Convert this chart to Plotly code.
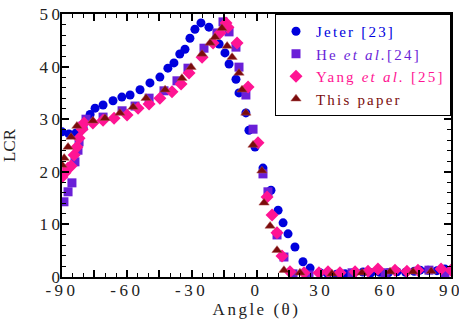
import plotly.graph_objects as go

# Jeter [23]
jeter_x = [-90.0, -86.8, -83.5, -80.3, -77.0, -74.7, -71.0, -66.4, -62.3, -58.5, -53.9, -49.3, -44.7,
           -41.0, -38.2, -35.5, -33.1, -30.8, -28.5, -25.7, -22.0, -17.3, -14.6, -12.7, -9.5, -8.1,
           -4.9, -3.5, -0.7, 3.0, 6.7, 10.0, 12.3, 14.6, 17.8, 21.5, 24.8, 29.4, 33.0, 37.0, 41.0,
           45.0, 49.3, 53.0, 57.0, 61.0, 65.0, 69.0, 73.0, 75.7, 79.4, 83.5, 87.2, 90.0]
jeter_y = [27.6, 27.2, 27.4, 28.3, 30.9, 32.1, 32.7, 33.5, 34.2, 34.6, 35.6, 36.9, 38.0,
           39.7, 40.7, 42.4, 43.3, 45.4, 47.1, 48.3, 47.5, 44.3, 42.6, 40.5, 37.6, 35.0,
           31.2, 27.9, 24.7, 20.7, 16.5, 12.7, 10.3, 8.2, 5.7, 2.9, 1.7, 0.8, 0.6, 0.5, 0.6,
           0.8, 0.95, 0.8, 0.9, 0.8, 1.0, 0.9, 1.1, 1.3, 1.3, 1.2, 1.5, 1.4]

# He et al. [24]
he_x = [-89.1, -87.2, -85.4, -84.0, -82.6, -82.1, -80.3, -78.9, -71.0, -62.2, -56.2, -49.7, -42.8,
        -36.8, -31.7, -24.3, -18.3, -15.5, -12.7, -9.5, -8.1, -4.9, -1.6, 3.0, 5.3, 9.5, 12.7,
        16.9, 24.3, 44.2, 59.5, 79.8, 87.2]
he_y = [14.3, 16.2, 17.9, 21.9, 24.1, 25.7, 28.7, 30.0, 30.4, 31.6, 32.5, 34.0, 35.4,
        37.3, 39.7, 43.5, 46.4, 48.5, 46.6, 43.7, 39.9, 34.6, 28.1, 19.6, 16.2, 8.0, 3.8,
        0.6, 0.4, 0.8, 0.8, 1.3, 0.6]

# Yang et al. [25]
yang_x = [-90.0, -88.6, -87.2, -85.8, -84.4, -83.1, -82.1, -80.7, -79.8, -75.7, -71.0, -65.9, -59.9,
          -54.8, -49.7, -44.7, -39.1, -34.9, -31.2, -25.2, -20.1, -16.9, -14.1, -13.2, -9.0, -3.9,
          0.7, 4.9, 7.2, 9.5, 11.8, 15.5, 22.0, 28.9, 33.1, 38.6, 45.6, 51.6, 56.2, 64.1, 69.6,
          74.7, 85.4, 90.0]
yang_y = [19.0, 19.8, 20.7, 21.1, 23.2, 24.7, 26.4, 28.1, 29.3, 29.3, 29.8, 30.2, 30.8,
          32.1, 32.9, 34.0, 35.2, 36.7, 38.8, 41.8, 44.5, 46.4, 48.3, 47.5, 44.5, 36.1,
          25.5, 15.2, 11.8, 8.4, 4.0, 1.0, 0.8, 0.8, 1.0, 0.8, 1.0, 1.1, 1.5, 1.3, 1.1,
          1.3, 1.5, 1.3]

# This paper
this_x = [-90.0, -89.0, -87.2, -85.8, -83.1, -75.7, -70.1, -63.2, -57.1, -51.1, -42.3, -34.5, -30.3,
          -25.2, -21.5, -19.2, -16.0, -13.6, -11.3, -8.1, -6.7, -4.9, -1.6, 2.5, 3.5, 6.3, 9.5,
          12.7, 20.1, 34.9, 48.8, 61.8, 72.4, 80.8]
this_y = [21.3, 22.6, 24.7, 26.6, 28.7, 29.7, 30.2, 31.2, 32.3, 34.0, 35.6, 37.8, 39.9,
          42.4, 44.5, 45.6, 47.3, 43.9, 41.8, 38.8, 35.6, 31.2, 25.1, 20.2, 14.1, 9.7, 5.1,
          1.3, 0.8, 0.6, 0.8, 1.0, 1.0, 1.1]

x_tickvals = list(range(-90, 91, 15))
x_ticklabels = [str(v) if v % 30 == 0 else "" for v in x_tickvals]
y_tickvals = [0, 10, 20, 30, 40, 50]
y_ticklabels = ["0", "10", "20", "30", "40", "50"]

C_BLUE = "#0000dd"
C_PURPLE = "#6a1fd8"
C_PINK = "#ff1493"
C_RED = "#7a0c0c"

FONT = "Liberation Serif"


def spaced(text, ls, color=None):
    style = f"letter-spacing:{ls}px"
    if color:
        style = f"color:{color};" + style
    return f'<span style="{style}">{text}</span>' if text else ""


fig = go.Figure()
fig.add_trace(go.Scatter(x=jeter_x, y=jeter_y, mode="markers",
                         name=spaced("Jeter [23]", 2.2, C_BLUE),
                         marker=dict(symbol="circle", size=9, color=C_BLUE)))
fig.add_trace(go.Scatter(x=he_x, y=he_y, mode="markers",
                         name=spaced("He <i>et al.</i>[24]", 2.2, C_PURPLE),
                         marker=dict(symbol="square", size=9, color=C_PURPLE)))
fig.add_trace(go.Scatter(x=yang_x, y=yang_y, mode="markers",
                         name=spaced("Yang <i>et al.</i> [25]", 2.2, C_PINK),
                         marker=dict(symbol="diamond", size=10, color=C_PINK)))
fig.add_trace(go.Scatter(x=this_x, y=this_y, mode="markers",
                         name=spaced("This paper", 2.2, C_RED),
                         marker=dict(symbol="triangle-up", size=9, color=C_RED,
                                     line=dict(color="#b05050", width=0.5))))

axis_common = dict(showline=True, linecolor="black", linewidth=2, mirror="ticks",
                   ticks="inside", tickcolor="black", tickwidth=1.5, showgrid=False,
                   zeroline=False, automargin=False, ticklabeloverflow="allow",
                   tickfont=dict(family=FONT, size=17, color="#222"))

fig.update_xaxes(range=[-90, 90], tickvals=x_tickvals,
                 ticktext=[spaced(t, 3.5) for t in x_ticklabels], ticklen=7,
                 ticklabelstandoff=-3,
                 minor=dict(dtick=5, ticks="inside", ticklen=4, tickcolor="black", tickwidth=1.2),
                 title=dict(text=spaced("Angle (θ)", 2.5),
                            font=dict(family=FONT, size=17, color="#222"), standoff=0),
                 **axis_common)
fig.update_yaxes(range=[0, 50], tickvals=y_tickvals,
                 ticktext=[spaced(t, 3.5) for t in y_ticklabels], ticklen=7,
                 ticklabelstandoff=-7,
                 minor=dict(dtick=2, ticks="inside", ticklen=4, tickcolor="black", tickwidth=1.2),
                 title=dict(text="LCR", font=dict(family=FONT, size=17, color="#222"),
                            standoff=22),
                 **axis_common)

fig.update_layout(
    width=459, height=320,
    margin=dict(l=62, r=8, t=14, b=43),
    plot_bgcolor="white", paper_bgcolor="white",
    legend=dict(x=1, y=1, xanchor="right", yanchor="top",
                bgcolor="white", bordercolor="black", borderwidth=1,
                font=dict(family=FONT, size=15)),
)

fig.write_html("out.html", config={"displayModeBar": False},
               post_script="document.body.style.margin='0';")
